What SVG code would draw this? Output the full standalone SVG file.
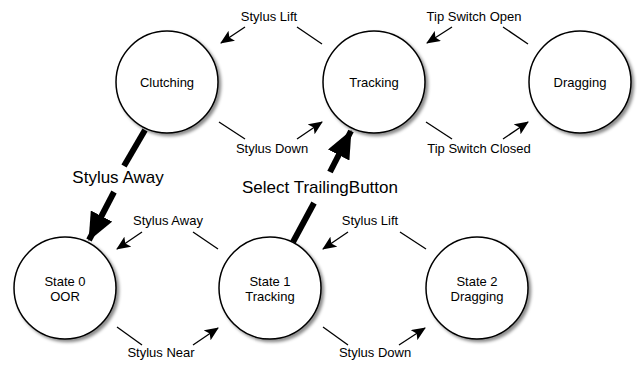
<svg xmlns="http://www.w3.org/2000/svg" width="637" height="365" viewBox="0 0 637 365">
  <style>
    .state circle { fill: #fff; stroke: #000; stroke-width: 1.5; filter: url(#shadow); }
    .state text { font-family: "Liberation Sans", Arial, sans-serif; font-size: 13px; text-anchor: middle; fill: #000; }
    .lbl { font-family: "Liberation Sans", Arial, sans-serif; font-size: 13px; text-anchor: middle; fill: #000; }
    .big { font-family: "Liberation Sans", Arial, sans-serif; font-size: 17px; text-anchor: middle; fill: #000; }
    .thin { stroke: #000; stroke-width: 1.3; fill: none; }
    .thin.arr { marker-end: url(#head); }
    .thick { stroke: #000; stroke-width: 6; fill: none; }
    .thick.arr { marker-end: url(#bighead); }
  </style>
  <defs>
    <filter id="shadow" x="-20%" y="-20%" width="150%" height="150%">
      <feDropShadow dx="2.5" dy="2.5" stdDeviation="1.8" flood-color="#000" flood-opacity="0.45"/>
    </filter>
    <marker id="head" markerUnits="userSpaceOnUse" markerWidth="14" markerHeight="12" viewBox="0 0 14 12" refX="13" refY="6" orient="auto">
      <path d="M0,0 L14,6 L0,12 L3,6 Z" fill="#000"/>
    </marker>
    <marker id="bighead" markerUnits="userSpaceOnUse" markerWidth="28" markerHeight="24" viewBox="0 0 28 24" refX="27" refY="12" orient="auto">
      <path d="M0,0 L28,12 L0,24 Z" fill="#000"/>
    </marker>
  </defs>

  <!-- states -->
  <g id="clutching" class="state">
    <circle cx="167" cy="82" r="51"/>
    <text x="167" y="87">Clutching</text>
  </g>
  <g id="tracking" class="state">
    <circle cx="374" cy="82" r="51"/>
    <text x="374" y="87">Tracking</text>
  </g>
  <g id="dragging" class="state">
    <circle cx="580" cy="82" r="51"/>
    <text x="580" y="87">Dragging</text>
  </g>
  <g id="state0" class="state">
    <circle cx="65" cy="288" r="51"/>
    <text x="65" y="286">State 0</text>
    <text x="65" y="301">OOR</text>
  </g>
  <g id="state1" class="state">
    <circle cx="270" cy="288" r="51"/>
    <text x="270" y="286">State 1</text>
    <text x="270" y="301">Tracking</text>
  </g>
  <g id="state2" class="state">
    <circle cx="477" cy="288" r="51"/>
    <text x="477" y="286">State 2</text>
    <text x="477" y="301">Dragging</text>
  </g>

  <!-- transitions -->
  <g id="connectors">
    <!-- Tracking -> Clutching -->
    <line class="thin" x1="322" y1="44" x2="297" y2="27"/>
    <line class="thin arr" x1="245" y1="27" x2="221" y2="43"/>
    <text class="lbl" x="269" y="21">Stylus Lift</text>
    <!-- Clutching -> Tracking -->
    <line class="thin" x1="219" y1="122" x2="245" y2="139"/>
    <line class="thin arr" x1="297" y1="139" x2="322" y2="122"/>
    <text class="lbl" x="272" y="153">Stylus Down</text>
    <!-- Dragging -> Tracking -->
    <line class="thin" x1="528" y1="44" x2="503" y2="27"/>
    <line class="thin arr" x1="452" y1="27" x2="427" y2="43"/>
    <text class="lbl" x="474" y="21">Tip Switch Open</text>
    <!-- Tracking -> Dragging -->
    <line class="thin" x1="426" y1="122" x2="452" y2="139"/>
    <line class="thin arr" x1="503" y1="139" x2="528" y2="122"/>
    <text class="lbl" x="479" y="153">Tip Switch Closed</text>

    <!-- State 1 -> State 0 -->
    <line class="thin" x1="218" y1="249" x2="193" y2="232"/>
    <line class="thin arr" x1="142" y1="232" x2="117" y2="249"/>
    <text class="lbl" x="168" y="225">Stylus Away</text>
    <!-- State 0 -> State 1 -->
    <line class="thin" x1="117" y1="327" x2="142" y2="345"/>
    <line class="thin arr" x1="193" y1="345" x2="218" y2="328"/>
    <text class="lbl" x="161" y="357">Stylus Near</text>
    <!-- State 2 -> State 1 -->
    <line class="thin" x1="426" y1="249" x2="400" y2="232"/>
    <line class="thin arr" x1="348" y1="232" x2="323" y2="249"/>
    <text class="lbl" x="370" y="225">Stylus Lift</text>
    <!-- State 1 -> State 2 -->
    <line class="thin" x1="323" y1="327" x2="348" y2="345"/>
    <line class="thin arr" x1="399" y1="345" x2="425" y2="328"/>
    <text class="lbl" x="375" y="357">Stylus Down</text>

    <!-- Clutching -> State 0 -->
    <line class="thick" x1="145" y1="130" x2="124" y2="166"/>
    <line class="thick arr" x1="114" y1="192" x2="89" y2="240"/>
    <text class="big" x="118" y="183">Stylus Away</text>
    <!-- State 1 -> Tracking -->
    <line class="thick" x1="293" y1="242" x2="314" y2="203"/>
    <line class="thick arr" x1="330" y1="172" x2="351" y2="131"/>
    <text class="big" x="320" y="193">Select TrailingButton</text>
  </g>
</svg>
